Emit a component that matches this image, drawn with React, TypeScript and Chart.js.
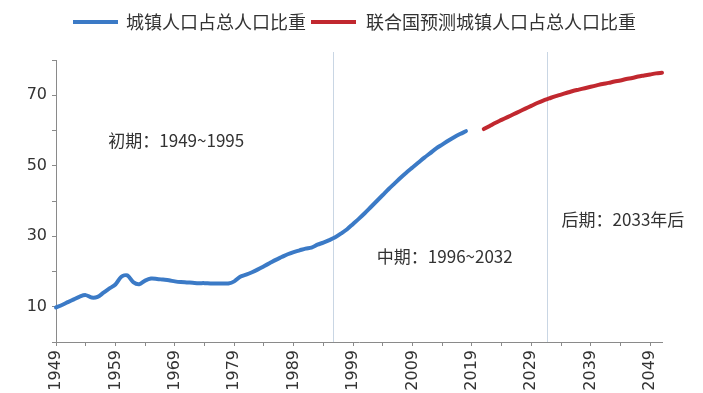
import { useEffect, useRef } from 'react';
import { Chart, registerables } from 'chart.js';

Chart.register(...registerables);

// ---- data ----
const URBAN_START_YEAR = 1949;
const URBAN_SHARE = [
  9.8, 10.5, 11.3, 12.1, 12.9, 13.3, 12.6, 12.8, 14.0, 15.2,
  16.3, 18.5, 18.9, 17.0, 16.4, 17.4, 18.0, 17.9, 17.7, 17.5,
  17.2, 17.0, 16.9, 16.8, 16.7, 16.7, 16.6, 16.6, 16.6, 16.6,
  17.2, 18.5, 19.1, 19.8, 20.6, 21.5, 22.4, 23.3, 24.1, 24.9,
  25.5, 26.0, 26.5, 26.8, 27.6, 28.2, 28.9, 29.7, 30.8, 32.0,
  33.5, 35.0, 36.6, 38.3, 40.0, 41.7, 43.4, 45.0, 46.6, 48.1,
  49.5, 50.9, 52.3, 53.6, 54.9, 56.0, 57.1, 58.1, 59.0, 59.8,
];
const UN_START_YEAR = 2021;
const UN_FORECAST = [
  60.4, 61.3, 62.2, 63.0, 63.8, 64.6, 65.4, 66.2, 67.0, 67.8,
  68.5, 69.1, 69.7, 70.2, 70.7, 71.2, 71.6, 72.0, 72.4, 72.8,
  73.2, 73.5, 73.9, 74.2, 74.6, 74.9, 75.3, 75.6, 75.9, 76.2, 76.4,
];
const SERIES_NAMES = ['城镇人口占总人口比重', '联合国预测城镇人口占总人口比重'];
const X_LABEL_TICKS = [1949, 1959, 1969, 1979, 1989, 1999, 2009, 2019, 2029, 2039, 2049];
const X_MINOR_TICKS = [1954, 1964, 1974, 1984, 1994, 2004, 2014, 2024, 2034, 2044];
const Y_TICKS = [0, 10, 20, 30, 40, 50, 60, 70, 80];
const Y_LABEL_TICKS = [10, 30, 50, 70];
const PHASE_LINES = [1995.6, 2031.7];
const PHASE_TEXTS = ['初期：1949~1995', '中期：1996~2032', '后期：2033年后'];
const PHASE_TEXT_X = [1957.8, 2003.0, 2034.1];
const PHASE_TEXT_Y = [57.1, 24.2, 34.7];

const BLUE = '#3b7ac6';
const RED = '#c1282f';
const AXIS = '#8a8a8a';
const CJK = '"Noto Sans CJK SC", "Noto Sans", sans-serif';

const overlay = {
  id: 'overlay',
  beforeDatasetsDraw(chart: any) {
    const { ctx, chartArea, scales } = chart;
    ctx.save();
    ctx.strokeStyle = '#c9d6e4';
    ctx.lineWidth = 1;
    PHASE_LINES.forEach((v) => {
      const px = Math.round(scales.x.getPixelForValue(v)) + 0.5;
      ctx.beginPath();
      ctx.moveTo(px, chartArea.top - 8);
      ctx.lineTo(px, chartArea.bottom);
      ctx.stroke();
    });
    ctx.restore();
  },
  afterDraw(chart: any) {
    const { ctx, scales } = chart;
    ctx.save();
    ctx.fillStyle = '#333';
    ctx.textBaseline = 'middle';
    ctx.textAlign = 'left';
    ctx.font = `17px ${CJK}`;
    PHASE_TEXTS.forEach((t, i) => {
      ctx.fillText(t, scales.x.getPixelForValue(PHASE_TEXT_X[i]), scales.y.getPixelForValue(PHASE_TEXT_Y[i]));
    });
    // legend
    const ly = 22;
    const items = [
      { color: BLUE, x0: 73, x1: 118, tx: 126 },
      { color: RED, x0: 311, x1: 356, tx: 366 },
    ];
    ctx.font = `18px ${CJK}`;
    items.forEach((it, i) => {
      ctx.strokeStyle = it.color;
      ctx.lineWidth = 4;
      ctx.beginPath();
      ctx.moveTo(it.x0, ly);
      ctx.lineTo(it.x1, ly);
      ctx.stroke();
      ctx.fillStyle = '#333';
      ctx.fillText(SERIES_NAMES[i], it.tx, ly);
    });
    ctx.restore();
  },
};

export default function App() {
  const ref = useRef<HTMLCanvasElement | null>(null);
  useEffect(() => {
    document.body.style.margin = '0';
    const canvas = ref.current;
    if (!canvas) return;
    const blue = URBAN_SHARE.map((v, i) => ({ x: URBAN_START_YEAR + i, y: v }));
    const red = UN_FORECAST.map((v, i) => ({ x: UN_START_YEAR + i, y: v }));
    const tickFont = { family: '"DejaVu Sans", sans-serif', size: 16 };
    const chart = new Chart(canvas, {
      type: 'line',
      data: {
        datasets: [
          { label: SERIES_NAMES[0], data: blue, borderColor: BLUE, backgroundColor: BLUE, borderWidth: 4, pointRadius: 0, tension: 0.3, fill: false, clip: false as any, borderCapStyle: 'round' },
          { label: SERIES_NAMES[1], data: red, borderColor: RED, backgroundColor: RED, borderWidth: 4, pointRadius: 0, tension: 0.3, fill: false, clip: false as any, borderCapStyle: 'round' },
        ],
      },
      options: {
        animation: false,
        responsive: false,
        layout: { padding: { top: 60, right: 41, left: 0, bottom: 0 } },
        plugins: { legend: { display: false }, tooltip: { enabled: false } },
        scales: {
          x: {
            type: 'linear',
            min: 1949,
            max: 2051,
            afterBuildTicks: (s: any) => {
              s.ticks = [...X_LABEL_TICKS, ...X_MINOR_TICKS].sort((a, b) => a - b).map((v) => ({ value: v }));
            },
            afterFit: (s: any) => { s.height = 51; },
            ticks: {
              autoSkip: false,
              maxRotation: 90,
              minRotation: 90,
              padding: 4,
              color: '#333',
              font: tickFont,
              callback: (v: any) => (X_LABEL_TICKS.includes(Number(v)) ? String(v) : ''),
            },
            grid: { drawOnChartArea: false, tickLength: 4, color: AXIS },
            border: { color: AXIS },
          },
          y: {
            type: 'linear',
            min: 0,
            max: 80,
            afterBuildTicks: (s: any) => { s.ticks = Y_TICKS.map((v) => ({ value: v })); },
            afterFit: (s: any) => { s.width = 56; },
            ticks: {
              padding: 5,
              color: '#333',
              font: tickFont,
              callback: (v: any) => (Y_LABEL_TICKS.includes(Number(v)) ? String(v) : ''),
            },
            grid: { drawOnChartArea: false, tickLength: 4, color: AXIS },
            border: { color: AXIS },
          },
        },
      },
      plugins: [overlay],
    } as any);
    return () => chart.destroy();
  }, []);
  return (
    <div style={{ position: 'fixed', left: 0, top: 0, width: 703, height: 393, background: '#fff' }}>
      <canvas ref={ref} width={703} height={393} />
    </div>
  );
}
